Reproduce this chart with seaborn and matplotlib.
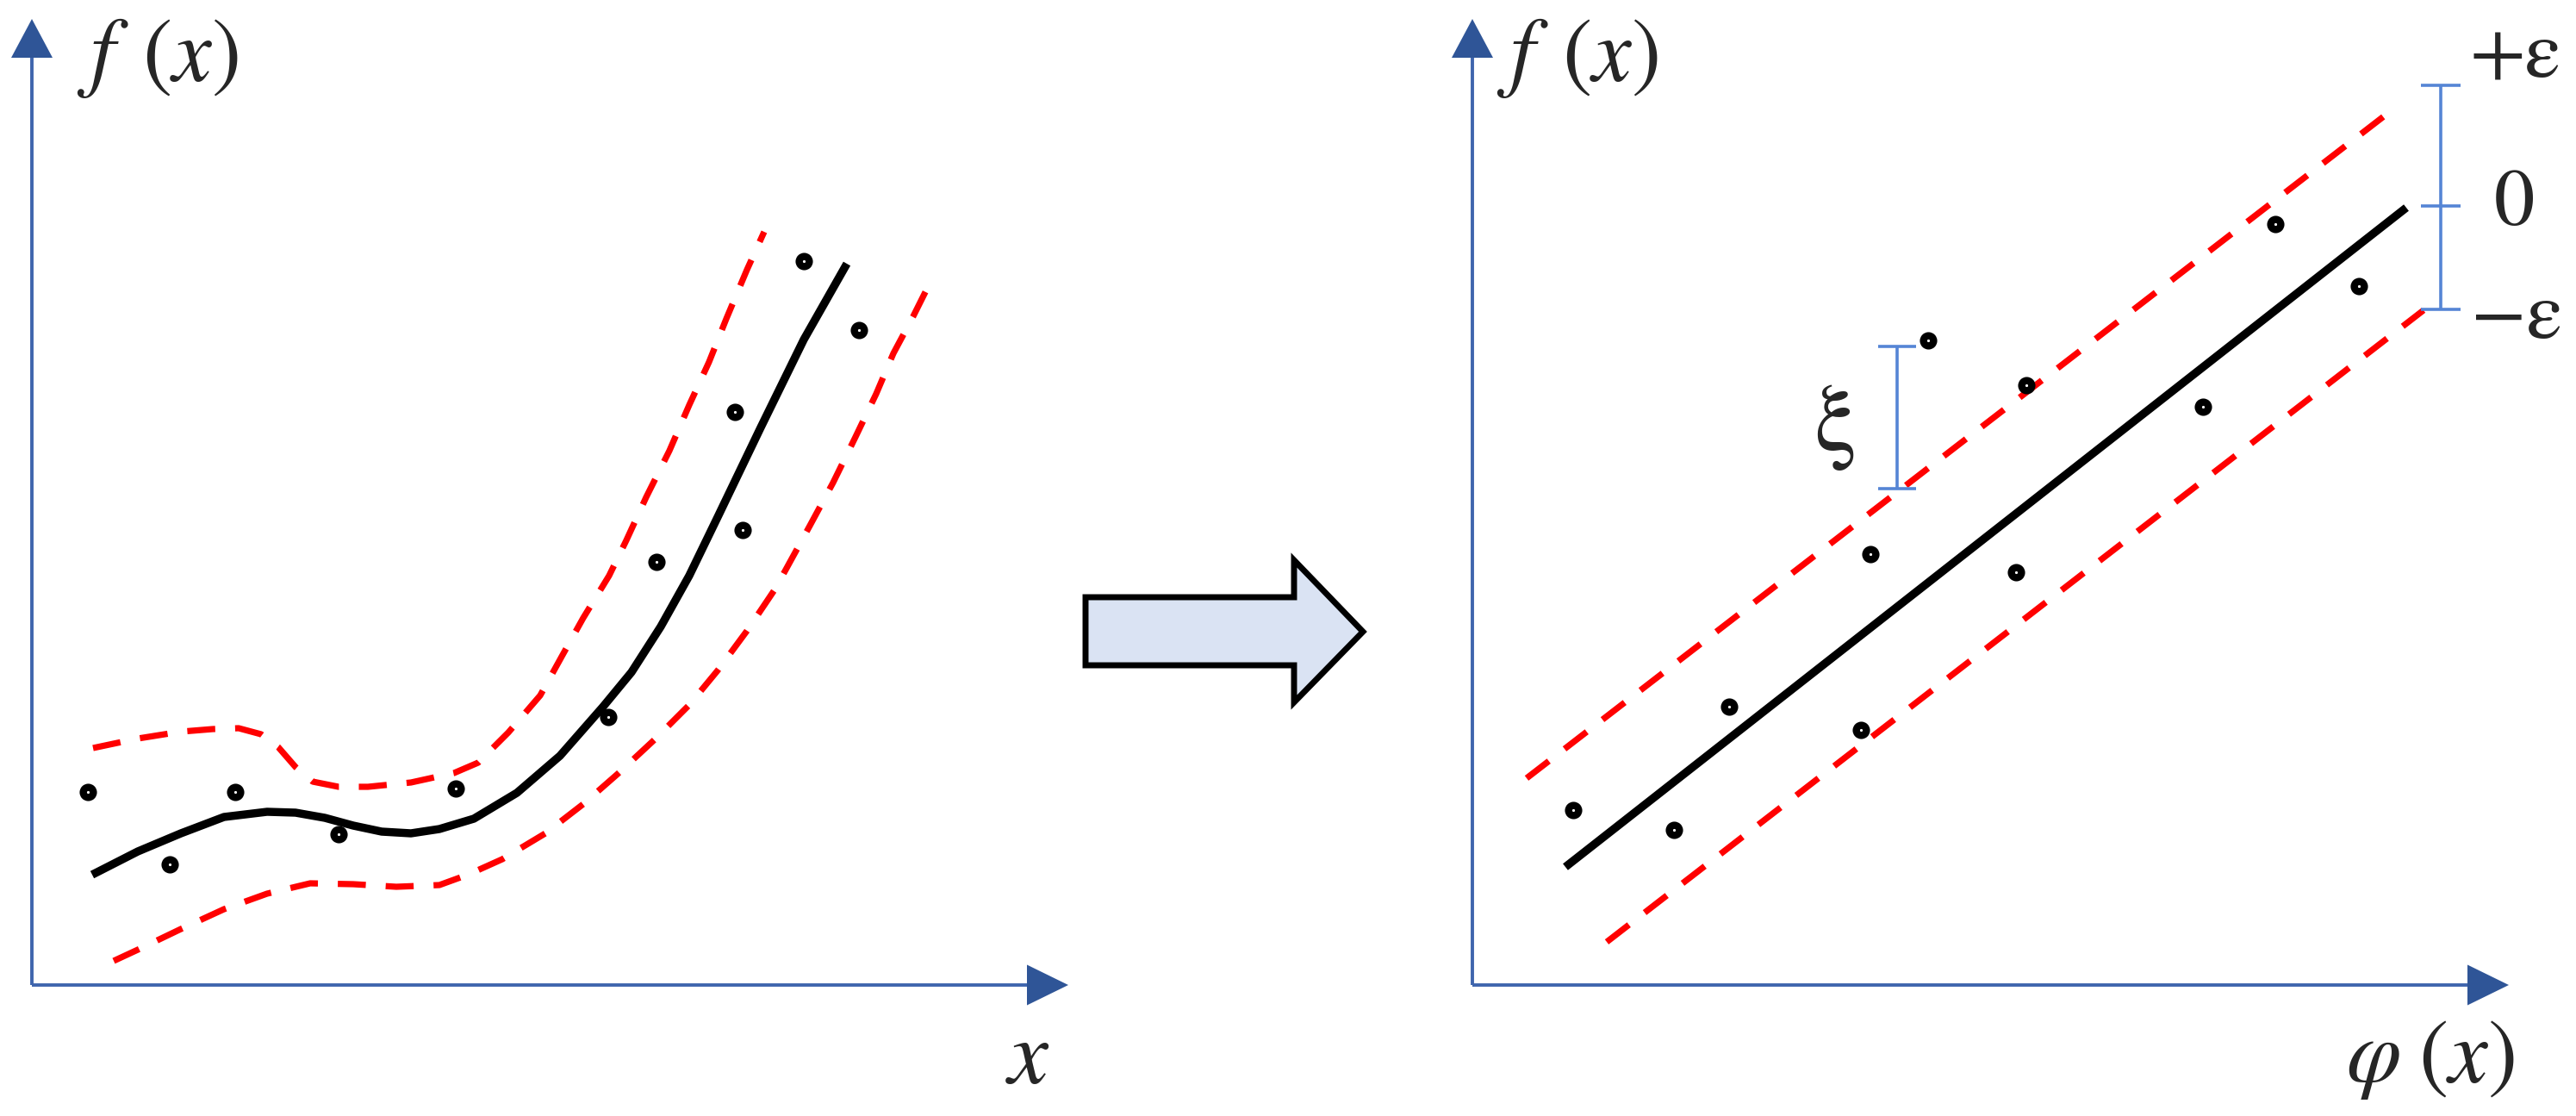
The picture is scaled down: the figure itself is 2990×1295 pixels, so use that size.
"""Regresión SVR: curva en el espacio original y recta en el espacio de características."""

import matplotlib

matplotlib.use("Agg")

import matplotlib.pyplot as plt
from matplotlib.patches import Polygon
import seaborn as sns

sns.set_theme(style="white")
plt.rcParams["mathtext.fontset"] = "stix"
plt.rcParams["font.family"] = ["STIXGeneral", "DejaVu Serif"]

W, H = 2990, 1295
AXIS_BLUE = "#3F65AD"
HEAD_BLUE = "#2F5597"
BAR_BLUE = "#5585D5"
ARROW_FILL = "#DAE3F3"
TXT = 68

# ---------------------------------------------------------------- datos
# panel izquierdo: muestras, curva ajustada y tubo epsilon (unidades = 100 px)
izq_pts_x = [0.65, 1.60, 2.36, 3.56, 4.92, 6.69, 7.25, 8.25, 8.16, 8.96, 9.60]
izq_pts_y = [2.24, 1.40, 2.24, 1.75, 2.28, 3.11, 4.91, 5.28, 6.65, 8.40, 7.60]

izq_fit_x = [0.70, 1.23, 1.73, 2.23, 2.73, 3.06, 3.40, 3.73, 4.06, 4.40, 4.73,
             5.13, 5.63, 6.13, 6.63, 6.96, 7.30, 7.63, 7.96, 8.46, 8.96, 9.46]
izq_fit_y = [1.28, 1.55, 1.76, 1.95, 2.01, 2.00, 1.94, 1.85, 1.78, 1.76, 1.81,
             1.93, 2.23, 2.66, 3.23, 3.63, 4.16, 4.75, 5.43, 6.47, 7.49, 8.37]

izq_sup_x = [0.71, 1.23, 1.73, 2.10, 2.40, 2.66, 2.86, 3.06, 3.26, 3.56, 3.90,
             4.40, 4.90, 5.18, 5.53, 5.90, 6.16, 6.40, 6.70, 6.90, 7.13, 7.40,
             7.63, 7.86, 8.06, 8.30, 8.50]
izq_sup_y = [2.75, 2.86, 2.94, 2.97, 2.98, 2.91, 2.76, 2.53, 2.36, 2.30, 2.30,
             2.35, 2.46, 2.58, 2.93, 3.36, 3.83, 4.26, 4.75, 5.16, 5.66, 6.20,
             6.73, 7.23, 7.73, 8.30, 8.74]

izq_inf_x = [0.95, 1.23, 1.73, 2.23, 2.73, 3.23, 3.73, 4.23, 4.73, 5.06, 5.46,
             5.96, 6.40, 6.80, 7.23, 7.63, 7.96, 8.30, 8.63, 9.03, 9.30, 9.56,
             9.80, 10.00, 10.23, 10.40]
izq_inf_y = [0.28, 0.41, 0.65, 0.88, 1.06, 1.18, 1.17, 1.14, 1.16, 1.28, 1.46,
             1.76, 2.10, 2.45, 2.85, 3.25, 3.65, 4.11, 4.60, 5.33, 5.83, 6.36,
             6.86, 7.33, 7.76, 8.10]

# panel derecho: espacio de características phi(x)
der_pts_x = [1.17, 2.34, 2.98, 4.62, 4.51, 5.29, 6.43, 6.31, 8.48, 9.32, 10.29]
der_pts_y = [2.03, 1.80, 3.23, 5.00, 2.96, 7.48, 6.96, 4.79, 6.71, 8.83, 8.11]

der_fit_x = [1.08, 10.84]
der_fit_y = [1.37, 9.02]
der_sup_x = [0.63, 10.67]
der_sup_y = [2.40, 10.15]
der_inf_x = [1.56, 11.04]
der_inf_y = [0.50, 7.83]

xi_x = 4.93
xi_rango = [5.76, 7.41]

eps_x = 11.24
eps_niveles = [7.84, 9.04, 10.44]
eps_etiquetas = ["\u2212\u03b5", "0", "+\u03b5"]


# ---------------------------------------------------------------- utilidades
def panel(fig, izq_px, ancho_px, origen_px):
    """Ejes sin marco donde 1 unidad = 100 px y el origen cae en la esquina."""
    ox, oy = origen_px
    ax = fig.add_axes([izq_px / W, 0, ancho_px / W, 1])
    ax.set_xlim((izq_px - ox) / 100, (izq_px + ancho_px - ox) / 100)
    ax.set_ylim((oy - H) / 100, oy / 100)
    ax.axis("off")
    return ax


def marco(ax):
    ax.plot([0, 0], [0, 10.76], color=AXIS_BLUE, linewidth=2.8, solid_capstyle="butt")
    ax.plot([0, 11.55], [0, 0], color=AXIS_BLUE, linewidth=2.8, solid_capstyle="butt")
    ax.fill([-0.24, 0.24, 0], [10.76, 10.76, 11.21], color=HEAD_BLUE, lw=0)
    ax.fill([11.55, 11.55, 12.03], [-0.235, 0.235, 0], color=HEAD_BLUE, lw=0)


def curvas(ax, fit, sup, inf, pts):
    sns.lineplot(x=fit[0], y=fit[1], ax=ax, color="black", linewidth=6.8,
                 sort=False, estimator=None, solid_capstyle="butt",
                 solid_joinstyle="round")
    for xs, ys in (sup, inf):
        sns.lineplot(x=xs, y=ys, ax=ax, color="#FF0000", linewidth=5.2,
                     sort=False, estimator=None, linestyle=(0, (4.5, 3.2)),
                     dash_capstyle="butt", dash_joinstyle="round")
    sns.scatterplot(x=pts[0], y=pts[1], ax=ax, s=72, color="white",
                    edgecolor="black", linewidth=6, zorder=5)


fig = plt.figure(figsize=(W / 100, H / 100), dpi=100)

# flecha grande entre paneles (coordenadas de píxel)
capa = fig.add_axes([0, 0, 1, 1])
capa.set_xlim(0, W)
capa.set_ylim(H, 0)
capa.axis("off")
flecha = [(1260, 693), (1502, 693), (1502, 650), (1582, 733),
          (1502, 815), (1502, 772), (1260, 772)]
capa.add_patch(Polygon(flecha, closed=True, fc=ARROW_FILL, ec="black", lw=5,
                       joinstyle="miter"))

# ---- izquierda
ax1 = panel(fig, 0, 1300, (37, 1143))
marco(ax1)
curvas(ax1, (izq_fit_x, izq_fit_y), (izq_sup_x, izq_sup_y),
       (izq_inf_x, izq_inf_y), (izq_pts_x, izq_pts_y))
ax1.text(0.52, 10.76, r"$f\,\;(x)$", fontsize=74, ha="left", va="center")
ax1.text(11.56, -0.89, r"$x$", fontsize=76, ha="center", va="center")

# ---- derecha
ax2 = panel(fig, 1640, 1350, (1709, 1143))
marco(ax2)
curvas(ax2, (der_fit_x, der_fit_y), (der_sup_x, der_sup_y),
       (der_inf_x, der_inf_y), (der_pts_x, der_pts_y))
ax2.text(0.28, 10.76, r"$f\,\;(x)$", fontsize=74, ha="left", va="center")
ax2.text(11.12, -0.87, r"$\varphi\;(x)$", fontsize=74, ha="center", va="center")

ax2.vlines(xi_x, xi_rango[0], xi_rango[1], color=BAR_BLUE, lw=2.6)
ax2.hlines(xi_rango, xi_x - 0.22, xi_x + 0.22, color=BAR_BLUE, lw=2.6)
ax2.text(4.21, 6.47, "\u03be", fontsize=80, ha="center", va="center")

ax2.vlines(eps_x, eps_niveles[0], eps_niveles[-1], color=BAR_BLUE, lw=2.6)
ax2.hlines(eps_niveles, eps_x - 0.23, eps_x + 0.23, color=BAR_BLUE, lw=2.6)
for nivel, etiqueta, dx, dy in zip(eps_niveles, eps_etiquetas,
                                   [0.88, 0.85, 0.87], [-0.11, 0, 0.31]):
    ax2.text(eps_x + dx, nivel + dy, etiqueta, fontsize=TXT,
             ha="center", va="center")

fig.savefig("out.png", dpi=100)
